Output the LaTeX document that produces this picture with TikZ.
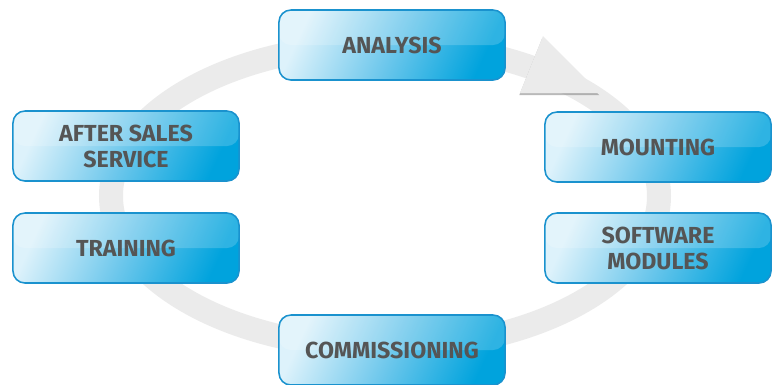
\documentclass[tikz,border=0pt]{standalone}
\usepackage{fontspec}
\setmainfont{Fira Sans}
\usetikzlibrary{shadows}

\definecolor{boxblue}{HTML}{00A3DD}
\definecolor{boxmid}{HTML}{6FC8EC}
\definecolor{boxlight}{HTML}{DDF2FB}
\definecolor{boxedge}{HTML}{1A92CE}
\definecolor{ringgray}{HTML}{EBEBEB}
\definecolor{textgray}{HTML}{555555}

\tikzset{
  stage/.style={draw=boxedge, line width=1.1pt, rounded corners=0.3cm,
    minimum width=5.65cm, minimum height=1.75cm, align=center,
    left color=boxlight, right color=boxblue, middle color=boxmid, shading angle=65,
    text=textgray, font=\fontsize{16.5}{18.5}\selectfont\bfseries,
    path picture={\fill[white, opacity=0.18]
      (path picture bounding box.north west) rectangle (path picture bounding box.east);}},
  ring/.style={draw=ringgray, line width=0.6cm}
}

\begin{document}
\begin{tikzpicture}[x=0.025cm, y=-0.025cm]
            \useasboundingbox (0,0) rectangle (772,384);

            %cycle
            \draw[ring] (385,196) ellipse [x radius=274, y radius=152];

            \fill[ringgray, drop shadow={shadow xshift=-0.5pt, shadow yshift=-1.5pt, opacity=0.55}]
              (543,36) -- (600,93) -- (520,93) -- cycle;

            %stages
            \node[stage] (analysis) at (392,45) {ANALYSIS};

            \node[stage] (mounting) at (658,147) {MOUNTING};

            \node[stage] (software) at (658,248) {SOFTWARE\\MODULES};

            \node[stage] (commissioning) at (392,350) {COMMISSIONING};

            \node[stage] (training) at (126,248) {TRAINING};

            \node[stage] (aftersales) at (126,146) {AFTER SALES\\SERVICE};
        \end{tikzpicture}
\end{document}
